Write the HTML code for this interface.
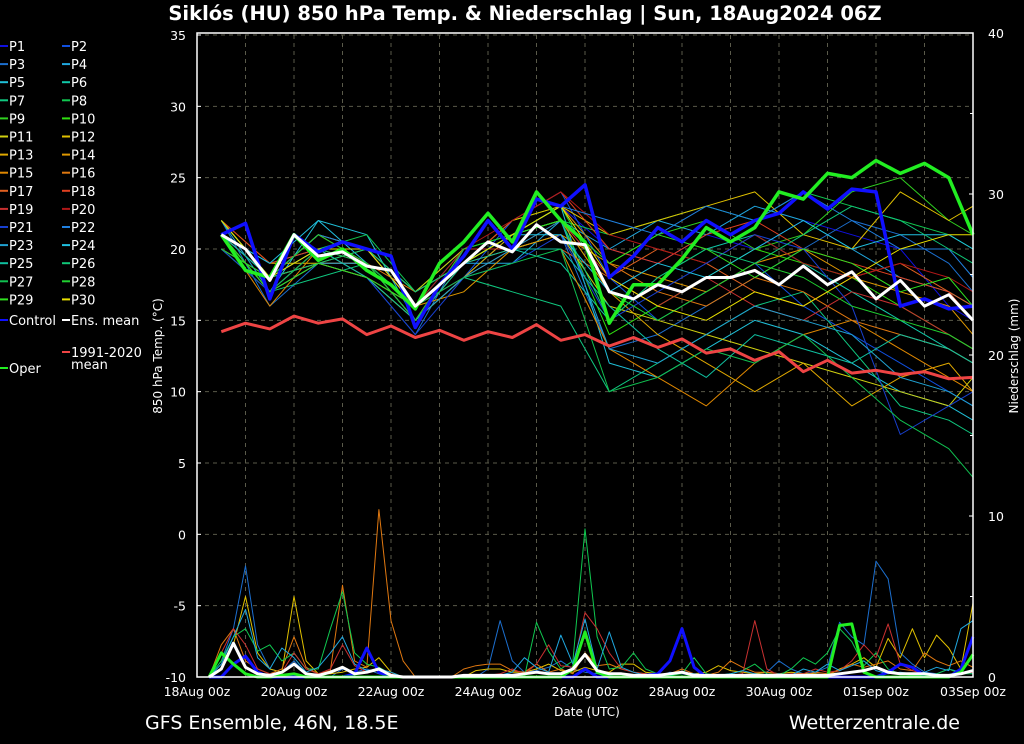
<!DOCTYPE html>
<html><head><meta charset="utf-8"><style>
body{margin:0;background:#000;}
svg{display:block;font-family:"DejaVu Sans","Liberation Sans",sans-serif;}
</style></head><body>
<svg id="chart" width="1024" height="744" viewBox="0 0 1024 744">
<rect x="0" y="0" width="1024" height="744" fill="#000"/>
<text x="525" y="20" fill="#fff" font-size="19.5" font-weight="bold" text-anchor="middle">Siklós  (HU)  850 hPa Temp. &amp; Niederschlag | Sun, 18Aug2024 06Z</text>
<text x="145" y="729" fill="#fff" font-size="19">GFS Ensemble, 46N, 18.5E</text>
<text x="960" y="729" fill="#fff" font-size="19" text-anchor="end">Wetterzentrale.de</text>
<text x="587" y="716" fill="#fff" font-size="12" text-anchor="middle">Date (UTC)</text>
<text transform="translate(162,356) rotate(-90)" fill="#fff" font-size="12" text-anchor="middle">850 hPa Temp. (°C)</text>
<text transform="translate(1018,356) rotate(-90)" fill="#fff" font-size="12" text-anchor="middle">Niederschlag (mm)</text>
<g id="grid"></g><g id="prec"></g><g id="temp"></g><g id="axes"></g><g id="legend"></g>
</svg>
<script>
const tempTicks=[35,30,25,20,15,10,5,0,-5,-10];
const precTicks=[40,30,20,10,0];
const dateLabels=["18Aug 00z","20Aug 00z","22Aug 00z","24Aug 00z","26Aug 00z","28Aug 00z","30Aug 00z","01Sep 00z","03Sep 00z"];
const dayH=[0.5,1,1.5,2,2.5,3,3.5,4,4.5,5,5.5,6,6.5,7,7.5,8,8.5,9,9.5,10,10.5,11,11.5,12,12.5,13,13.5,14,14.5,15,15.5,16];
const ensMean=[21,20,17.8,21,19.5,19.8,18.8,18.5,16,17.5,19,20.5,19.8,21.7,20.5,20.3,17,16.5,17.5,17,18,18,18.5,17.5,18.8,17.5,18.4,16.5,17.8,16,16.8,15];
const oper=[21,18.5,18,21,19.2,20,18.5,17.5,15.8,19,20.5,22.5,20.5,24,22,20.5,14.8,17.5,17.5,19.3,21.5,20.5,21.5,24,23.5,25.3,25,26.2,25.3,26,25,21];
const control=[21,21.8,16.5,21,19.8,20.5,20,19.5,14.5,17.5,19.5,22,20,23.5,23,24.5,18,19.5,21.5,20.5,22,21,22,22.5,24,22.8,24.2,24,16,16.5,15.8,16];
const clim=[14.2,14.8,14.4,15.3,14.8,15.1,14,14.6,13.8,14.3,13.6,14.2,13.8,14.7,13.6,14,13.2,13.8,13.1,13.7,12.7,13,12.2,12.8,11.4,12.2,11.3,11.5,11.2,11.4,10.9,11];
const dayM=[0.5,1.5,2.5,3.5,4.5,5.5,6.5,7.5,8.5,9.5,10.5,11.5,12.5,13.5,14.5,15.5,16];
const members=[
[21,17,20,19,15,19,21,23,20,19,21,20,22,21,20,16,15],
[20,18,21,20,16,18,22,24,18,15,17,19,16,14,12,10,9],
[22,16,19,18,14,20,20,21,13,14,16,18,20,22,21,19,17],
[21,19,20,20,17,19,19,22,20,22,21,23,22,20,18,17,16],
[20,17,22,21,15,18,21,23,12,11,13,15,14,12,10,9,8],
[22,18,19,18,16,20,20,19,15,18,20,21,19,17,15,13,12],
[21,17,18,19,15,18,17,16,10,12,14,16,17,13,9,8,7],
[21,18,20,21,17,20,21,22,21,22,23,22,24,23,22,21,20],
[22,18,19,19,16,19,22,23,19,21,22,20,21,24,25,22,21],
[20,17,20,18,15,19,21,22,14,16,18,20,19,18,16,14,13],
[21,18,21,20,17,20,20,21,16,15,14,13,12,11,10,9,11],
[22,19,19,19,16,19,22,23,21,22,23,24,21,20,24,22,23],
[21,17,20,18,15,18,21,22,17,14,12,10,12,9,11,12,10],
[20,18,19,20,16,17,20,21,19,18,17,19,20,18,17,16,14],
[21,16,20,19,15,19,20,20,13,11,9,12,14,15,13,11,10],
[22,18,21,19,17,19,21,23,19,17,16,18,17,15,14,13,12],
[21,17,19,18,16,18,20,20,18,20,19,17,16,18,19,17,16],
[22,19,20,20,16,19,22,24,20,19,21,22,20,19,18,17,15],
[21,18,19,19,15,20,20,22,18,16,18,16,15,17,16,14,13],
[21,18,20,20,16,20,22,24,21,20,19,21,19,18,19,18,17],
[20,17,20,18,14,18,19,21,15,17,19,21,20,16,7,9,10],
[21,18,21,20,16,19,21,23,22,21,23,22,24,22,20,20,18],
[22,17,19,19,15,18,20,22,13,12,14,16,15,14,11,10,9],
[21,19,22,19,16,19,21,21,17,19,18,20,22,20,21,21,20],
[21,18,20,18,15,19,20,20,16,13,11,14,13,12,14,13,12],
[22,18,19,20,17,19,21,22,15,18,20,19,21,23,22,20,19],
[21,17,20,19,16,18,19,20,10,11,13,12,14,11,8,6,4],
[20,18,21,19,15,20,21,23,17,15,17,19,18,16,15,14,13],
[21,17,19,18,16,19,21,22,19,21,20,18,20,19,17,18,16],
[22,18,20,20,16,19,21,23,18,16,15,17,16,18,20,21,21]];
const memberColors=['#1010e0','#1050e0','#1c6fcf','#20a8e0','#20c0d8','#10c8a8','#10c880','#10c850','#30d020','#30e010','#d0d010','#e0c000','#e0a800','#e09800','#e08800','#e07810','#e06020','#e04020','#c83030','#b01818','#1840d0','#2080e0','#20a0d0','#20c0e0','#10c0a0','#10c878','#10c050','#20d030','#30e020','#e8e000'];
const dayP=[];for(let i=0;i<64;i++)dayP.push(0.25+0.25*i);
const precMean=[0,0.5,2.1,0.6,0.2,0.1,0.3,0.8,0.2,0.1,0.3,0.6,0.2,0.3,0.5,0.1,0,0,0,0,0,0.1,0.1,0.1,0.1,0.1,0.2,0.3,0.2,0.2,0.5,1.4,0.4,0.2,0.2,0.1,0.1,0.1,0.2,0.3,0.1,0.1,0.1,0.1,0.1,0.1,0.1,0.1,0.1,0.1,0.1,0.1,0.2,0.3,0.4,0.6,0.3,0.2,0.2,0.2,0.1,0.1,0.2,0.4];
const precOper=[0,1.5,0.8,0.2,0,0,0.1,0.2,0,0,0,0,0,0,0,0,0,0,0,0,0,0,0,0,0,0,0,0,0,0,0.5,2.8,0.3,0,0,0,0,0,0,0,0,0,0,0,0,0,0,0,0,0,0,0,3.2,3.3,0.3,0,0,0,0,0,0,0,0.3,1.4];
const precCtrl=[0,0,0.8,1.3,0.3,0,0,0,0,0,0,0,0.2,1.8,0.3,0,0,0,0,0,0,0,0,0,0,0,0,0,0,0,0,0.5,0,0,0,0,0.1,0.2,1.0,3.0,0.6,0,0,0,0,0,0,0,0,0,0,0,0,0,0,0,0.3,0.8,0.6,0.1,0,0,0.5,2.5];
const precMembers=[
[0,1,3,6.9,2,0.5,0.3,1,0.2,0,0,0.5,0.3,0.5,0.2,0,0,0,0,0,0,0,0,0.5,3.5,1,0.3,0.4,0.6,1,0.5,0.3,0.2,0.1,0,0,0,0,0.3,0.2,0.1,0,0,0,0,0.2,0.3,1,0.5,0.2,0.3,0.6,3.4,2.5,2,7.2,6.1,1.5,0.8,0.3,0.2,0.5,0.3,0.2],
[0,0.5,2,5,1.5,0.5,0.3,5,1,0.2,0.2,0.3,0.5,0.6,1.2,0.3,0,0,0,0,0,0,0.4,0.5,0.5,0.3,0.3,0.5,0.8,0.4,0.3,0.6,0.4,0.3,0.8,0.8,0.3,0.2,0.1,0.3,0.2,0.3,0.7,0.4,0.3,0.2,0.3,0.2,0.3,0.2,0.2,0.1,0.5,0.8,1.2,0.6,2.4,1.2,3,1.2,2.6,1.8,0.5,4.6],
[0,2,3,1,0.5,0.2,0.5,2.5,0.6,0.2,0.4,5.7,1,0.6,10.4,3.5,1,0,0,0,0,0.5,0.7,0.8,0.8,0.4,0.3,0.8,0.3,0.5,0.2,1.5,0.7,0.8,0.5,0.3,0.2,0.1,0.2,0.5,0.2,0.1,0.3,1,0.6,0.3,0.3,0.2,0.1,0.1,0.3,0.2,0.4,0.8,0.6,0.8,1,0.5,0.4,1.5,1.0,0.7,1.0,0.6],
[0,1,2.5,3,1.6,2,1,1.5,0.5,0.5,3,5.3,1.5,0.8,0.6,0.2,0,0,0,0,0,0,0,0,0,0,0,3.4,1.6,0.5,1,9.2,2.5,0.5,0.6,1.5,0.5,0.2,0.1,0.2,1.2,0.2,0.1,0.2,0.4,0.8,0.2,0.1,0.5,1.2,0.8,1.5,3,2.2,0.7,1.5,0.5,0.2,0.1,0.1,0.2,0.5,0.2,0.2],
[0,1.5,3,2,0.5,0.2,0.3,1.5,0.5,0.2,0.5,2,0.7,0.3,0.5,0.2,0,0,0,0,0,0,0.1,0.1,0.2,0.5,0.2,0.8,2,0.7,0.6,4,3,1.5,0.5,0.3,0.2,0.1,0.2,0.3,0.2,0.1,0.1,0.1,0.2,3.5,0.5,0.1,0.2,0.2,0.5,0.3,0.4,1,2,1.2,3.3,0.8,0.4,0.2,0.1,0.1,0.2,0.3],
[0,0.8,2.5,4.2,1.2,0.5,1.8,1.2,0.3,0.6,1.5,2.5,0.8,0.4,0.5,0.3,0,0,0,0,0,0,0,0,0.1,0.3,1.2,0.6,0.3,2.6,0.8,3.6,0.5,2.8,0.6,0.3,0.1,0.2,0.1,0.3,0.2,0.1,0.1,0.2,0.4,0.2,0.1,0.2,0.1,0.5,0.3,0.8,0.4,0.7,1,0.4,0.2,0.3,0.2,0.3,0.6,0.4,3,3.5]];
const precMemberColors=['#1c6fcf','#e0c000','#e07810','#10c850','#c83030','#20a8e0'];

const X0=197,X1=973,YT=35,YB=677;
const xs=d=>X0+(X1-X0)*d/16;
const yT=v=>YB-(YB-YT)*(v+10)/45;
const yP=v=>677-(677-33)*v/40;
const NS='http://www.w3.org/2000/svg';
function mk(tag,attrs,parent){const e=document.createElementNS(NS,tag);for(const k in attrs)e.setAttribute(k,attrs[k]);parent.appendChild(e);return e;}
const grid=document.getElementById('grid'),axes=document.getElementById('axes'),temp=document.getElementById('temp'),prec=document.getElementById('prec'),leg=document.getElementById('legend');
tempTicks.forEach(t=>{
  const g=mk('line',{x1:X0,x2:X1,y1:yT(t),y2:yT(t),stroke:'#5a5a4a','stroke-dasharray':'4,4','stroke-width':1},grid);
  
  
  const l=mk('text',{x:186,y:yT(t)+5,fill:'#fff','font-size':12.5,'text-anchor':'end'},axes);l.textContent=t;
  
  
  mk('line',{x1:X0,x2:X0+4,y1:yT(t),y2:yT(t),stroke:'#fff'},axes);
});
for(let d=1;d<16;d++){
  const g=mk('line',{x1:xs(d),x2:xs(d),y1:YT,y2:YB,stroke:'#5a5a4a','stroke-dasharray':'4,4','stroke-width':1},grid);
  
  
}
precTicks.forEach(t=>{
  const l=mk('text',{x:988,y:yP(t)+5,fill:'#fff','font-size':12.5,'text-anchor':'start'},axes);l.textContent=t;
  
  
  mk('line',{x1:X1-4,x2:X1,y1:yP(t),y2:yP(t),stroke:'#fff'},axes);
});
for(let t=5;t<40;t+=5){if(t%10)mk('line',{x1:X1-3,x2:X1,y1:yP(t),y2:yP(t),stroke:'#fff'},axes);}
dateLabels.forEach((s,i)=>{
  const l=mk('text',{x:xs(i*2),y:696,fill:'#fff','font-size':12.5,'text-anchor':'middle'},axes);l.textContent=s;
  
  
});
const frame=mk('rect',{x:X0,y:YT-2,width:X1-X0,height:YB-YT+2,fill:'none',stroke:'#fff','stroke-width':1.5},axes);


function line(par,xsArr,vals,yf,color,w,name){
  const pts=vals.map((v,i)=>xs(xsArr[i]).toFixed(1)+','+yf(v).toFixed(1)).join(' ');
  const p=mk('polyline',{points:pts,fill:'none',stroke:color,'stroke-width':w,'stroke-linejoin':'round'},par);
  
  
}
precMembers.forEach((a,i)=>line(prec,dayP,a,yP,precMemberColors[i],1,'precip-member'));
line(prec,dayP,precCtrl,yP,'#1010ff',3,'precip-control');
line(prec,dayP,precOper,yP,'#22ee22',3,'precip-oper');
line(prec,dayP,precMean,yP,'#fff',3,'precip-ens-mean');
members.forEach((a,i)=>line(temp,dayM,a,yT,memberColors[i],1,'temp-member-p'+(i+1)));
line(temp,dayH,clim,yT,'#ee4444',3,'temp-climatology');
line(temp,dayH,control,yT,'#1010ff',3.5,'temp-control');
line(temp,dayH,oper,yT,'#22ee22',3.5,'temp-oper');
line(temp,dayH,ensMean,yT,'#fff',3,'temp-ens-mean');
for(let i=0;i<30;i++){
  const col=i%2,row=Math.floor(i/2);
  const x=col?62:0,y=46+row*18.1;
  mk('line',{x1:x,x2:x+8,y1:y,y2:y,stroke:memberColors[i],'stroke-width':2},leg);
  const t=mk('text',{x:x+9,y:y+5,fill:'#fff','font-size':13},leg);t.textContent='P'+(i+1);
  
  
}
const extra=[[0,320,'#1010ff','Control'],[62,320,'#fff','Ens. mean'],[62,352,'#ee4444','1991-2020'],[0,368,'#22ee22','Oper']];
extra.forEach(e=>{
  mk('line',{x1:e[0],x2:e[0]+8,y1:e[1],y2:e[1],stroke:e[2],'stroke-width':2},leg);
  const t=mk('text',{x:e[0]+9,y:e[1]+5,fill:'#fff','font-size':13},leg);t.textContent=e[3];
  
  
});
const m=mk('text',{x:71,y:369,fill:'#fff','font-size':13},leg);m.textContent='mean';


</script>
</body></html>
